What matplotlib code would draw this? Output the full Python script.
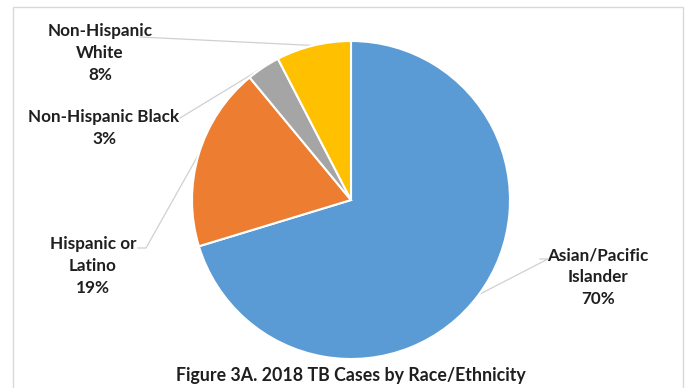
import numpy as np
import matplotlib
matplotlib.use("Agg")
import matplotlib.pyplot as plt
from matplotlib.patches import Rectangle

plt.rcParams['font.family'] = ['Lato', 'DejaVu Sans']

# data (clockwise from 12 o'clock)
groups = ['Asian/Pacific\nIslander', 'Hispanic or\nLatino', 'Non-Hispanic Black', 'Non-Hispanic\nWhite']
shares = [70.3, 18.7, 3.4, 7.6]
pct_labels = ['70%', '19%', '3%', '8%']
colors = ['#5B9BD5', '#ED7D31', '#A5A5A5', '#FFC000']
title = 'Figure 3A. 2018 TB Cases by Race/Ethnicity'

W, H = 686, 388
fig = plt.figure(figsize=(W / 100, H / 100), dpi=100)
ax = fig.add_axes([0, 0, 1, 1])

cx, cy, r = 351, H - 200, 159
wedges, _ = ax.pie(shares, colors=colors, startangle=90, counterclock=False,
                   center=(cx, cy), radius=r,
                   wedgeprops=dict(edgecolor='white', linewidth=1.5))
ax.set_xlim(0, W)
ax.set_ylim(0, H)
ax.set_aspect('auto')
ax.axis('off')

# chart frame
ax.add_patch(Rectangle((13, -5), 670, H - 7 + 5, fill=False, edgecolor='#d9d9d9', lw=1))

# label positions (text centre) and leader start / elbow points
text_pos = [(598, H - 277), (93, H - 266), (104, H - 128), (100, H - 53)]
leader = [[(540, H - 259), (548, H - 259)],
          [(138, H - 248), (146, H - 248)],
          [(180, H - 118)],
          [(140, H - 37)]]

for w, g, p, tp, pts in zip(wedges, groups, pct_labels, text_pos, leader):
    mid = np.deg2rad((w.theta1 + w.theta2) / 2)
    ex, ey = cx + r * np.cos(mid), cy + r * np.sin(mid)
    xs = [q[0] for q in pts] + [ex]
    ys = [q[1] for q in pts] + [ey]
    ax.plot(xs, ys, color='#d0d0d0', lw=0.9, zorder=0)
    ax.text(tp[0], tp[1], g + '\n' + p, ha='center', va='center',
            fontsize=12.3, fontweight='bold', color='#1f1f1f', linespacing=1.45)

ax.text(351, H - 375, title, ha='center', va='center', fontsize=12.8,
        fontweight='bold', color='#1f1f1f')

fig.savefig('out.png', dpi=100)
